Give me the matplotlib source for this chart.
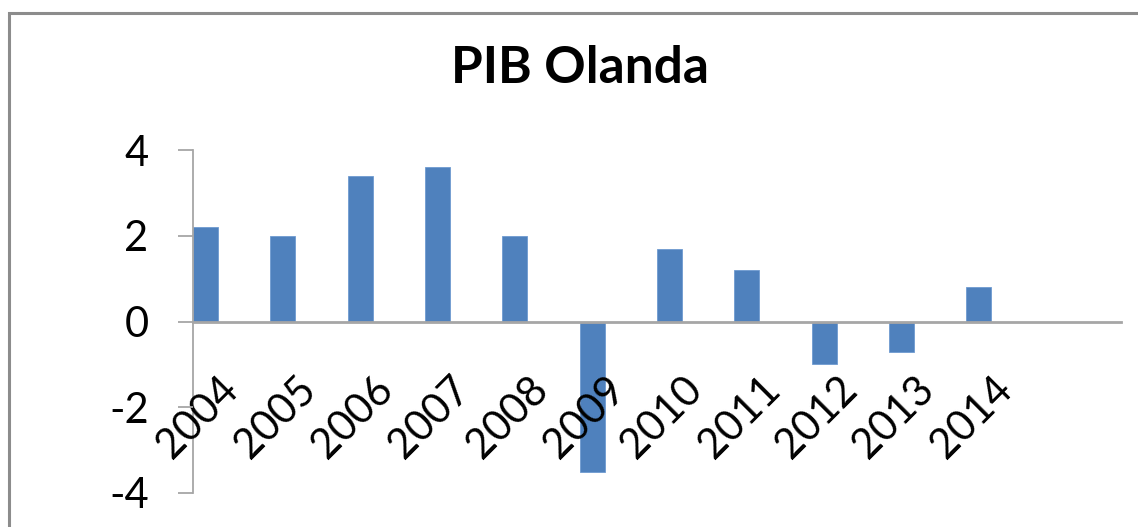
import matplotlib
matplotlib.use("Agg")
import matplotlib.pyplot as plt
from matplotlib.patches import Rectangle

years = ["2004", "2005", "2006", "2007", "2008", "2009", "2010", "2011", "2012", "2013", "2014"]
gdp_growth = [2.2, 2.0, 3.4, 3.6, 2.0, -3.5, 1.7, 1.2, -1.0, -0.7, 0.8]
y_ticks = [-4, -2, 0, 2, 4]
title = "PIB Olanda"

plt.rcParams['font.family'] = ['Lato', 'DejaVu Sans']

W, H = 1138, 527
fig = plt.figure(figsize=(W / 100, H / 100), dpi=100)
fig.patch.set_facecolor("white")

# outer chart border (cropped at right/bottom)
fig.add_artist(Rectangle((9 / W, -0.1), 1.2, 1.1 - 13 / H, transform=fig.transFigure,
                         fill=False, edgecolor="#8c8c8c", linewidth=2.2))

left, right, top, bottom = 193, 1121, 150, 493
ax = fig.add_axes([left / W, 1 - bottom / H, (right - left) / W, (bottom - top) / H])
ax.set_axisbelow(False)

bar_w = 0.325
x = list(range(len(years)))
ax.bar(x, gdp_growth, width=bar_w, color="#4F81BD", edgecolor="#6f9bd0", linewidth=0.6, zorder=1)

ax.set_xlim(-bar_w / 2, -bar_w / 2 + 12)
ax.set_ylim(-4, 4)

for s in ["top", "right"]:
    ax.spines[s].set_visible(False)
ax.spines["bottom"].set_position(("data", 0))
ax.spines["bottom"].set_color("#a6a6a6")
ax.spines["bottom"].set_linewidth(2)
ax.spines["left"].set_color("#a6a6a6")
ax.spines["left"].set_linewidth(1.3)

ax.set_yticks(y_ticks)
ax.set_yticklabels([str(v) if v >= 0 else "-" + str(-v) for v in y_ticks], fontsize=30)
ax.tick_params(axis="y", length=11, width=1.3, color="#a6a6a6", pad=21)

ax.set_xticks([i + 0.17 for i in x])
ax.set_xticklabels(years, rotation=45, ha="right", va="top", rotation_mode="anchor", fontsize=30)
ax.tick_params(axis="x", length=0, pad=35)

fig.text(580 / W, 1 - 83 / H, title, ha="center", va="baseline", fontsize=37, fontweight="bold")

fig.savefig("out.png", dpi=100, facecolor="white")
